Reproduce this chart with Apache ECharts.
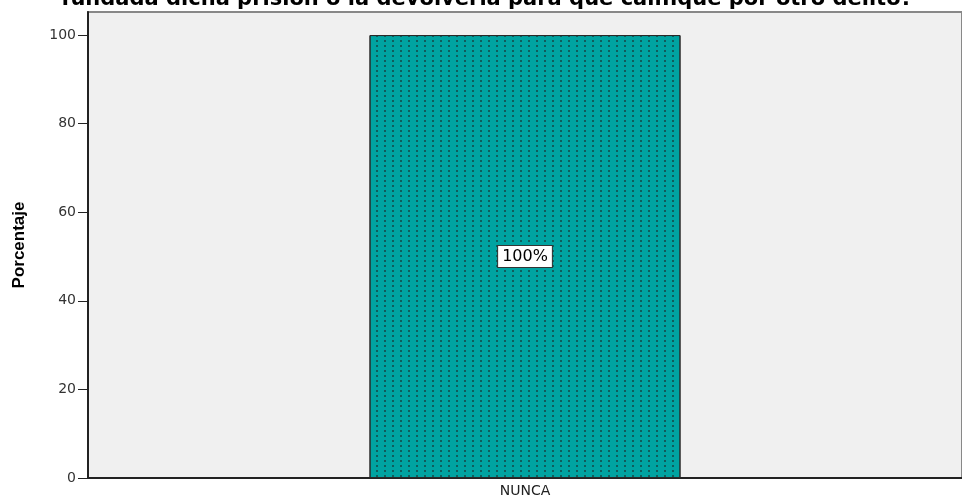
<!DOCTYPE html>
<html>
<head>
<meta charset="utf-8">
<script src="https://cdn.jsdelivr.net/npm/echarts@6/dist/echarts.min.js"></script>
<style>
    html, body { margin: 0; padding: 0; background: #fff; }
    #chart { width: 962px; height: 500px; }
</style>
</head>
<body>
<div id="chart"></div>
<script>
// datos
var titulo = "fundada dicha prisión o la devolvería para que califique por otro delito?";
var categorias = ["NUNCA"];
var porcentajes = [100];
var ticksY = [0, 20, 40, 60, 80, 100];

(function () {
    var myChart = echarts.init(document.getElementById("chart"));
    var option = {
        animation: false,
        title: {
            text: titulo,
            left: 482,
            textAlign: 'center',
            top: -16,
            textStyle: {
                fontFamily: 'DejaVu Sans',
                fontWeight: 'bold',
                fontSize: 21,
                color: '#000'
            }
        },
        grid: {
            left: 88,
            right: -10,
            top: 12,
            bottom: 22,
            show: true,
            backgroundColor: '#f0f0f0',
            borderColor: '#888',
            borderWidth: 2
        },
        xAxis: {
            type: 'category',
            data: categorias,
            axisLine: { lineStyle: { color: '#222', width: 2 } },
            axisTick: { alignWithLabel: true, length: 6, lineStyle: { color: '#222' } },
            axisLabel: {
                color: '#222',
                fontFamily: 'DejaVu Sans',
                fontSize: 14,
                margin: 6
            }
        },
        yAxis: {
            type: 'value',
            min: 0,
            max: 105.2,
            name: 'Porcentaje',
            nameLocation: 'middle',
            nameGap: 60,
            nameTextStyle: {
                fontFamily: 'Liberation Sans',
                fontWeight: 'bold',
                fontSize: 17,
                color: '#000'
            },
            splitLine: { show: false },
            axisLine: { show: true, lineStyle: { color: '#222', width: 2 } },
            axisTick: {
                show: true,
                length: 10,
                customValues: ticksY,
                lineStyle: { color: '#222' }
            },
            axisLabel: {
                customValues: ticksY,
                color: '#333',
                fontFamily: 'DejaVu Sans',
                fontSize: 14,
                margin: 12
            }
        },
        series: [
            {
                type: 'bar',
                data: porcentajes,
                barWidth: 311,
                itemStyle: {
                    color: '#00a3a1',
                    borderColor: '#2a2a2a',
                    borderWidth: 1,
                    decal: {
                        symbol: 'rect',
                        symbolSize: 1,
                        color: 'rgba(20,70,70,0.75)',
                        dashArrayX: [2, 6],
                        dashArrayY: [2, 3],
                        rotation: 0
                    }
                },
                label: {
                    show: true,
                    position: 'inside',
                    formatter: '{c}%',
                    color: '#000',
                    fontFamily: 'DejaVu Sans',
                    fontSize: 16,
                    backgroundColor: '#fff',
                    borderColor: '#333',
                    borderWidth: 1,
                    padding: [3, 4, 2, 4]
                }
            }
        ]
    };
    myChart.setOption(option);
    window.addEventListener("resize", function () {
        myChart.resize();
    })
})();
</script>
</body>
</html>
